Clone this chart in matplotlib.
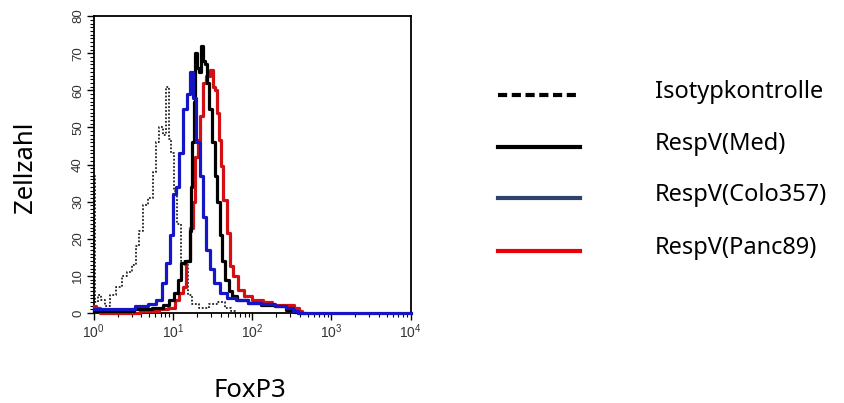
import numpy as np
import matplotlib
matplotlib.use("Agg")
import matplotlib.pyplot as plt
from matplotlib.lines import Line2D
from matplotlib.ticker import LogLocator, MultipleLocator

plt.rcParams["font.family"] = ["Liberation Sans", "DejaVu Sans"]
plt.rcParams["mathtext.fontset"] = "custom"
plt.rcParams["mathtext.rm"] = "Liberation Sans"
plt.rcParams["mathtext.it"] = "Liberation Sans:italic"
plt.rcParams["mathtext.bf"] = "Liberation Sans:bold"

# decade position (log10 of FoxP3 intensity) and cell count
iso_pos = [0.0, 0.03, 0.064, 0.106, 0.17, 0.234, 0.318, 0.38, 0.446, 0.51, 0.55,
           0.594, 0.658, 0.72, 0.764, 0.807, 0.85, 0.89, 0.934, 0.955, 1.0, 1.03,
           1.08, 1.125, 1.17, 1.21, 1.27, 1.38, 1.51, 1.61, 1.7, 1.76, 1.8]
iso_cnt = [37, 3, 5, 3.5, 2, 5, 7, 10, 11, 13, 18,
           22, 29, 31, 38, 46, 50, 48, 61, 47, 43, 33,
           24, 14, 13, 5, 2.5, 1.5, 2.5, 3, 1.5, 0.5, 0]

med_pos = [0.0, 0.4, 0.6, 0.83, 0.91, 0.98, 1.04, 1.08, 1.12, 1.17, 1.2, 1.22,
           1.24, 1.25, 1.27, 1.29, 1.31, 1.34, 1.36, 1.39, 1.42, 1.44, 1.48,
           1.51, 1.55, 1.57, 1.61, 1.63, 1.68, 1.72, 1.76, 1.85, 2.02, 2.19,
           2.36, 2.48, 2.56, 2.6]
med_cnt = [0.5, 0.5, 1, 1.3, 2.2, 3.6, 5.4, 9, 13.5, 14, 14, 22,
           34, 46, 57, 70, 66, 65, 72, 68, 67, 62, 55,
           46, 37, 30, 21, 14, 9, 6, 4.5, 3.6, 2.7, 2.2,
           1.8, 0.9, 0.2, 0]

colo_pos = [0.0, 0.19, 0.4, 0.62, 0.74, 0.83, 0.89, 0.934, 0.977, 1.02, 1.06,
            1.1, 1.15, 1.19, 1.23, 1.27, 1.32, 1.36, 1.4, 1.44, 1.49, 1.55,
            1.63, 1.72, 1.85, 2.02, 2.19, 2.36, 2.48, 2.55, 2.61, 4.0]
colo_cnt = [1, 1, 1, 2, 2.5, 3.6, 8, 13.5, 21, 32, 34,
            43, 55, 59, 65, 58, 46, 37, 26, 17, 12, 8,
            5.5, 4, 3.5, 2.7, 2.5, 2, 1.3, 0.5, 0, 0]

panc_pos = [0.0, 0.05, 0.1, 0.8, 0.85, 1.0, 1.04, 1.1, 1.14, 1.19, 1.23, 1.27,
            1.29, 1.33, 1.36, 1.4, 1.44, 1.49, 1.51, 1.55, 1.57, 1.59, 1.61,
            1.66, 1.7, 1.74, 1.78, 1.85, 1.93, 2.06, 2.19, 2.31, 2.48, 2.57,
            2.61, 2.65]
panc_cnt = [2, 1.5, 0, 0.5, 1, 1.5, 3.6, 5.4, 7, 14, 23, 30,
            42, 46.5, 53, 62, 64, 65.5, 61, 60, 54, 46.5, 39.5,
            30.5, 21.5, 12.6, 10, 6.3, 4.5, 3.6, 3, 2.2, 2.2, 1.3,
            0.5, 0]

legend_labels = ["Isotypkontrolle", "RespV(Med)", "RespV(Colo357)", "RespV(Panc89)"]

fig = plt.figure(figsize=(8.45, 4.03), dpi=100)
ax = fig.add_axes([0.111, 0.223, 0.375, 0.737])

ax.step(10 ** np.array(iso_pos), iso_cnt, where="mid", color="#222222",
        lw=1.3, ls=(0, (1, 1)), zorder=2)
ax.step(10 ** np.array(panc_pos), panc_cnt, where="mid", color="#d40f14",
        lw=2.3, zorder=3, clip_on=False)
ax.step(10 ** np.array(med_pos), med_cnt, where="mid", color="black",
        lw=2.3, zorder=4, clip_on=False)
ax.step(10 ** np.array(colo_pos), colo_cnt, where="mid", color="#1515c8",
        lw=2.3, zorder=5, clip_on=False)

ax.set_xscale("log")
ax.set_xlim(1, 1e4)
ax.set_ylim(0, 80)
ax.yaxis.set_major_locator(MultipleLocator(10))
ax.yaxis.set_minor_locator(MultipleLocator(1))
ax.xaxis.set_major_locator(LogLocator(base=10))
ax.xaxis.set_minor_locator(LogLocator(base=10, subs=np.arange(2, 10)))

ax.tick_params(which="major", direction="out", length=5, width=1, pad=2,
               labelsize=10, labelcolor="#333333")
ax.tick_params(which="minor", direction="out", length=3, width=0.8)
for lab in ax.get_yticklabels():
    lab.set_rotation(90)
    lab.set_va("center")
    lab.set_fontsize(9.5)
for sp in ax.spines.values():
    sp.set_linewidth(1.3)

font = ["Noto Sans", "DejaVu Sans"]
fig.text(0.03, 1 - 167 / 403, "Zellzahl", rotation=90, ha="center", va="center",
         family=font, fontsize=18.5)
fig.text(250 / 845, 1 - 397 / 403, "FoxP3", ha="center", va="baseline",
         family=font, fontsize=18.5)

# hand-drawn legend on the right
styles = [dict(color="black", ls=(0, (2.2, 1.1))),
          dict(color="black", ls="-"),
          dict(color="#2b4468", ls="-"),
          dict(color="#e8000a", ls="-")]
line_y = [95, 147, 198, 251]
for lab, st, ly in zip(legend_labels, styles, line_y):
    yf = 1 - ly / 403
    fig.add_artist(Line2D([498 / 845, 580 / 845], [yf, yf], lw=3, **st))
    fig.text(655 / 845, 1 - (ly + 3) / 403, lab, ha="left", va="baseline",
             family=font, fontsize=17)

fig.savefig("out.png", dpi=100)
